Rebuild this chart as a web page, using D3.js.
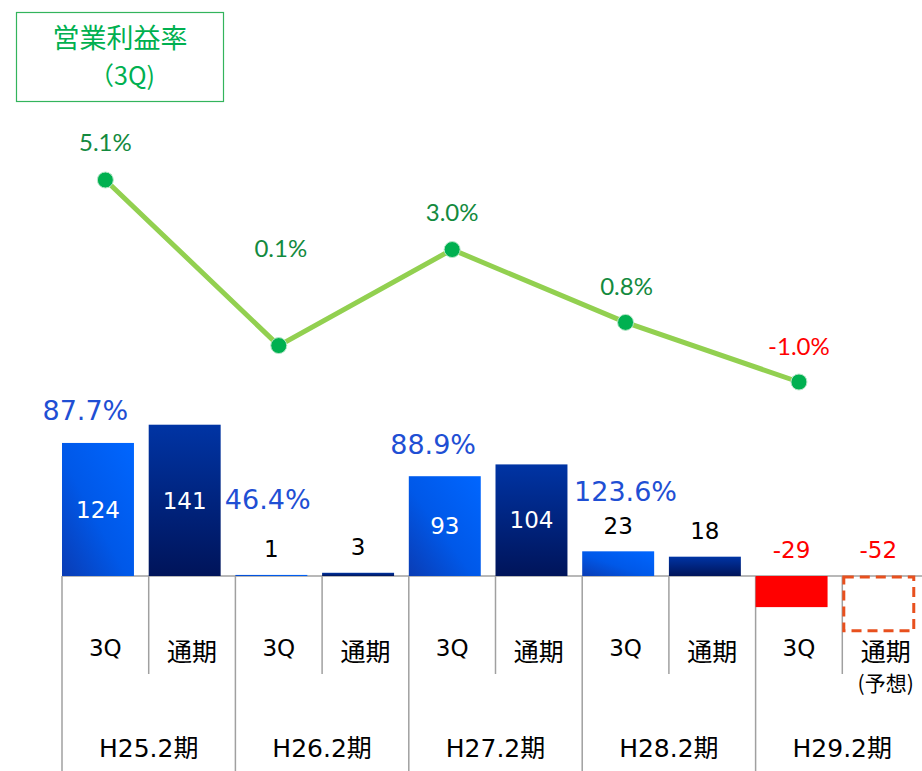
<!DOCTYPE html>
<html><head><meta charset="utf-8">
<script src="https://cdn.jsdelivr.net/npm/d3@7"></script>
<style>
html,body{margin:0;padding:0;background:#fff;}
svg text{font-family:"DejaVu Sans","Noto Sans CJK JP",sans-serif;}
svg text.jp{font-family:"Noto Sans CJK JP",sans-serif;}
svg text.lt{font-family:"Lato","Noto Sans",sans-serif;}
</style></head>
<body>
<svg id="c" width="922" height="771"></svg>
<script>
// ---- data ----
const groups = ["H25.2期","H26.2期","H27.2期","H28.2期","H29.2期"];
const subCats = ["3Q","通期"];
const q3Values = [124, 1, 93, 23, -29];
const fullValues = [141, 3, 104, 18, -52];
const progressLabels = ["87.7%","46.4%","88.9%","123.6%",""];
const marginRates = [5.1, 0.1, 3.0, 0.8, -1.0];
const marginLabels = ["5.1%","0.1%","3.0%","0.8%","-1.0%"];
// label placement tweaks (dx, dy) — layout only
const pctOffsets = [[-20,-33],[-11,-76],[-19,-32],[0,-60]];
const rateOffsets = [[0,-38],[2,-97],[0,-37],[1,-36],[0,-36]];

const svg = d3.select("#c");
const slots = d3.range(groups.length * 2);
const x = d3.scaleBand().domain(slots).range([62, 62 + 86.7*10]).paddingInner(0).paddingOuter(0);
const barW = x.bandwidth()*0.83;
const y = d3.scaleLinear().domain([-60, 150]).range([576 + 60*1.073, 576 - 150*1.073]);
const yL = d3.scaleLinear().domain([-1.0, 5.1]).range([382, 180]);
const y0 = y(0);

// gradients
const defs = svg.append("defs");
const g1 = defs.append("linearGradient").attr("id","gq").attr("x1","1").attr("y1","0").attr("x2","0").attr("y2","1");
g1.append("stop").attr("offset","0").attr("stop-color","#0066ff");
g1.append("stop").attr("offset","0.55").attr("stop-color","#0058e8");
g1.append("stop").attr("offset","1").attr("stop-color","#0a3cb4");
const g2 = defs.append("linearGradient").attr("id","gf").attr("x1","0").attr("y1","0").attr("x2","0").attr("y2","1");
g2.append("stop").attr("offset","0").attr("stop-color","#0034a4");
g2.append("stop").attr("offset","1").attr("stop-color","#00145a");

// bars data
const bars = [];
groups.forEach((g,i)=>{
  bars.push({slot:i*2, v:q3Values[i], type:"q"});
  bars.push({slot:i*2+1, v:fullValues[i], type:"f", forecast: i===groups.length-1});
});

// axis lines (category table)
const axisColor = "#a0a0a0";
svg.append("line").attr("x1",x(0)).attr("x2",922).attr("y1",y0).attr("y2",y0)
  .attr("stroke",axisColor).attr("stroke-width",1.5);
groups.forEach((g,i)=>{
  const xl = x(i*2);
  svg.append("line").attr("x1",xl).attr("x2",xl).attr("y1",y0).attr("y2",771)
    .attr("stroke",axisColor).attr("stroke-width",1.5);
  const xm = x(i*2+1);
  svg.append("line").attr("x1",xm).attr("x2",xm).attr("y1",y0).attr("y2",674)
    .attr("stroke",axisColor).attr("stroke-width",1.5);
});

// bars
bars.forEach(b=>{
  const top = y(Math.max(0,b.v)), bot = y(Math.min(0,b.v));
  if (b.forecast) {
    svg.append("rect").attr("x",x(b.slot)+1.5).attr("y",top+1).attr("width",barW-2).attr("height",bot-top-2)
      .attr("fill","none").attr("stroke","#e8501e").attr("stroke-width",3).attr("stroke-dasharray","10,6");
  } else {
    svg.append("rect").attr("x",x(b.slot)).attr("y",top).attr("width",barW).attr("height",Math.max(1,bot-top))
      .attr("fill", b.v<0 ? "#ff0000" : (b.type==="q" ? "url(#gq)" : "url(#gf)"));
  }
  const cx = x(b.slot) + barW/2;
  if (b.v >= 50) {
    svg.append("text").attr("x",cx).attr("y",(top+bot)/2).attr("dy","0.36em")
      .attr("text-anchor","middle").attr("fill","#fff").attr("font-size",23).text(b.v);
  } else if (b.v >= 0) {
    svg.append("text").attr("x",cx).attr("y",top-26).attr("dy","0.36em")
      .attr("text-anchor","middle").attr("fill","#000").attr("font-size",23).text(b.v);
  } else {
    svg.append("text").attr("x",cx).attr("y",y0-26).attr("dy","0.36em")
      .attr("text-anchor","middle").attr("fill","#ff0000").attr("font-size",23).text(b.v);
  }
});

// progress % labels
progressLabels.forEach((t,i)=>{
  if(!t) return;
  const cx = x(i*2)+x.bandwidth()/2;
  const top = y(Math.max(0,q3Values[i]));
  svg.append("text").attr("x",cx+pctOffsets[i][0]).attr("y",top+pctOffsets[i][1]).attr("dy","0.36em")
    .attr("text-anchor","middle").attr("fill","#1f4fd4").attr("font-size",27).text(t);
});

// category labels
bars.forEach(b=>{
  const cx = x(b.slot)+x.bandwidth()/2;
  if (b.type==="q") {
    svg.append("text").attr("x",cx).attr("y",648).attr("dy","0.36em")
      .attr("text-anchor","middle").attr("fill","#000").attr("font-size",23).text(subCats[0]);
  } else {
    svg.append("text").attr("class","jp").attr("x",cx).attr("y",652).attr("dy","0.36em")
      .attr("text-anchor","middle").attr("fill","#000").attr("font-size",25).text(subCats[1]);
  }
  if (b.forecast) {
    svg.append("text").attr("class","jp").attr("x",cx).attr("y",683).attr("dy","0.36em")
      .attr("text-anchor","middle").attr("fill","#000").attr("font-size",21).text("(予想)");
  }
});
groups.forEach((g,i)=>{
  const cx = x(i*2+1);
  svg.append("text").attr("x",cx).attr("y",748).attr("dy","0.36em")
    .attr("text-anchor","middle").attr("fill","#000").attr("font-size",25).text(g);
});

// line
const lx = i => x(i*2)+x.bandwidth()/2;
svg.append("path").datum(marginRates)
  .attr("d", d3.line().x((d,i)=>lx(i)).y(d=>yL(d)))
  .attr("fill","none").attr("stroke","#92d050").attr("stroke-width",5);
marginRates.forEach((v,i)=>{
  svg.append("circle").attr("cx",lx(i)).attr("cy",yL(v)).attr("r",8)
    .attr("fill","#00b050").attr("stroke","#b9e6c9").attr("stroke-width",1);
  svg.append("text").attr("class","lt").attr("x",lx(i)+rateOffsets[i][0]).attr("y",yL(v)+rateOffsets[i][1]).attr("dy","0.36em")
    .attr("text-anchor","middle").attr("fill", v<0 ? "#ff0000" : "#138a3e").attr("font-size",24).text(marginLabels[i]);
});

// legend box
svg.append("rect").attr("x",16.5).attr("y",12.5).attr("width",207).attr("height",89)
  .attr("fill","#fff").attr("stroke","#33b45c").attr("stroke-width",1.2);
svg.append("text").attr("class","jp").attr("x",120).attr("y",38).attr("dy","0.36em").attr("text-anchor","middle")
  .attr("fill","#00b050").attr("font-size",27).text("営業利益率");
svg.append("text").attr("class","jp").attr("x",122).attr("y",76).attr("dy","0.36em").attr("text-anchor","middle")
  .attr("fill","#00b050").attr("font-size",25).text("（3Q)");
</script>
</body></html>
